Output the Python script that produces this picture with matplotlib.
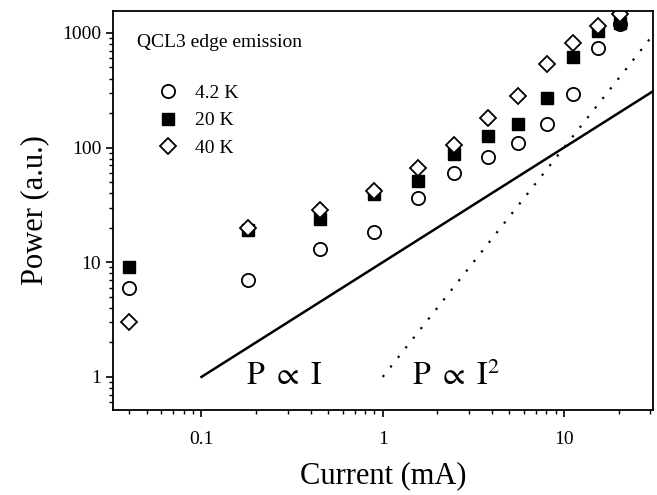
import matplotlib
matplotlib.use("Agg")
import matplotlib.pyplot as plt
import numpy as np

plt.rcParams['font.family'] = ['Liberation Serif', 'DejaVu Serif']
plt.rcParams['mathtext.fontset'] = 'stix'

# Data
current = [0.04, 0.18, 0.45, 0.9, 1.56, 2.47, 3.8, 5.57, 8.05, 11.2, 15.4, 20.4]
p_4K = [6, 7, 13, 18.2, 36, 60, 83, 110, 162, 295, 740, 1200]
p_20K = [9, 19, 23.7, 39, 51.6, 88, 127, 162, 272, 618, 1040, 1220]
p_40K = [3, 20, 28.3, 42, 66, 106, 182, 283, 537, 818, 1150, 1460]
labels = ['4.2 K', '20 K', '40 K']

# Guide lines: P = 10*I (from 0.1 mA) and P = I^2 (from 1 mA)
lin_x = [0.1, 31]
lin_y = [1, 310]
quad_x = [1, 31]
quad_y = [1, 961]

fig = plt.figure(figsize=(6.57, 4.95), dpi=100)
ax = fig.add_axes([0.172, 0.172, 0.822, 0.806])

ax.plot(lin_x, lin_y, color='black', lw=1.8)
ax.plot(quad_x, quad_y, color='black', lw=1.6, ls=(0, (1, 4.5)))

ax.plot(current, p_4K, 'o', ms=9.5, mfc='white', mec='black', mew=1.3, ls='none', label=labels[0])
ax.plot(current, p_20K, 's', ms=8, mfc='black', mec='black', mew=1.0, ls='none', label=labels[1])
ax.plot(current, p_40K, 'D', ms=8.5, mfc='white', mec='black', mew=1.3, ls='none', label=labels[2])

ax.set_xscale('log')
ax.set_yscale('log')
ax.set_xlim(0.0325, 31)
ax.set_ylim(0.516, 1555)

ax.set_xticks([0.1, 1, 10])
ax.set_xticklabels(['0.1', '1', '10'])
ax.set_yticks([1, 10, 100, 1000])
ax.set_yticklabels(['1', '10', '100', '1000'])
ax.tick_params(which='major', direction='out', length=5, width=1.2, labelsize=14)
ax.tick_params(axis='x', which='major', pad=10)
ax.tick_params(which='minor', direction='out', length=3, width=1.0)
for s in ax.spines.values():
    s.set_linewidth(1.3)

ax.set_xlabel('Current (mA)', fontsize=22, labelpad=10)
ax.set_ylabel('Power (a.u.)', fontsize=22, labelpad=9)

ax.text(0.044, 0.922, 'QCL3 edge emission', transform=ax.transAxes, fontsize=14, va='center')
ax.text(0.177, 1.0, r'$\mathrm{P}\ \propto\ \mathrm{I}$', fontsize=23, va='center')
ax.text(1.45, 1.0, r'$\mathrm{P}\ \propto\ \mathrm{I}^{2}$', fontsize=23, va='center')

leg = ax.legend(loc='upper left', bbox_to_anchor=(0.065, 0.84), frameon=False, fontsize=14,
                handlelength=1.0, handletextpad=0.9, labelspacing=0.5, borderpad=0)

fig.savefig('out.png', dpi=100)
